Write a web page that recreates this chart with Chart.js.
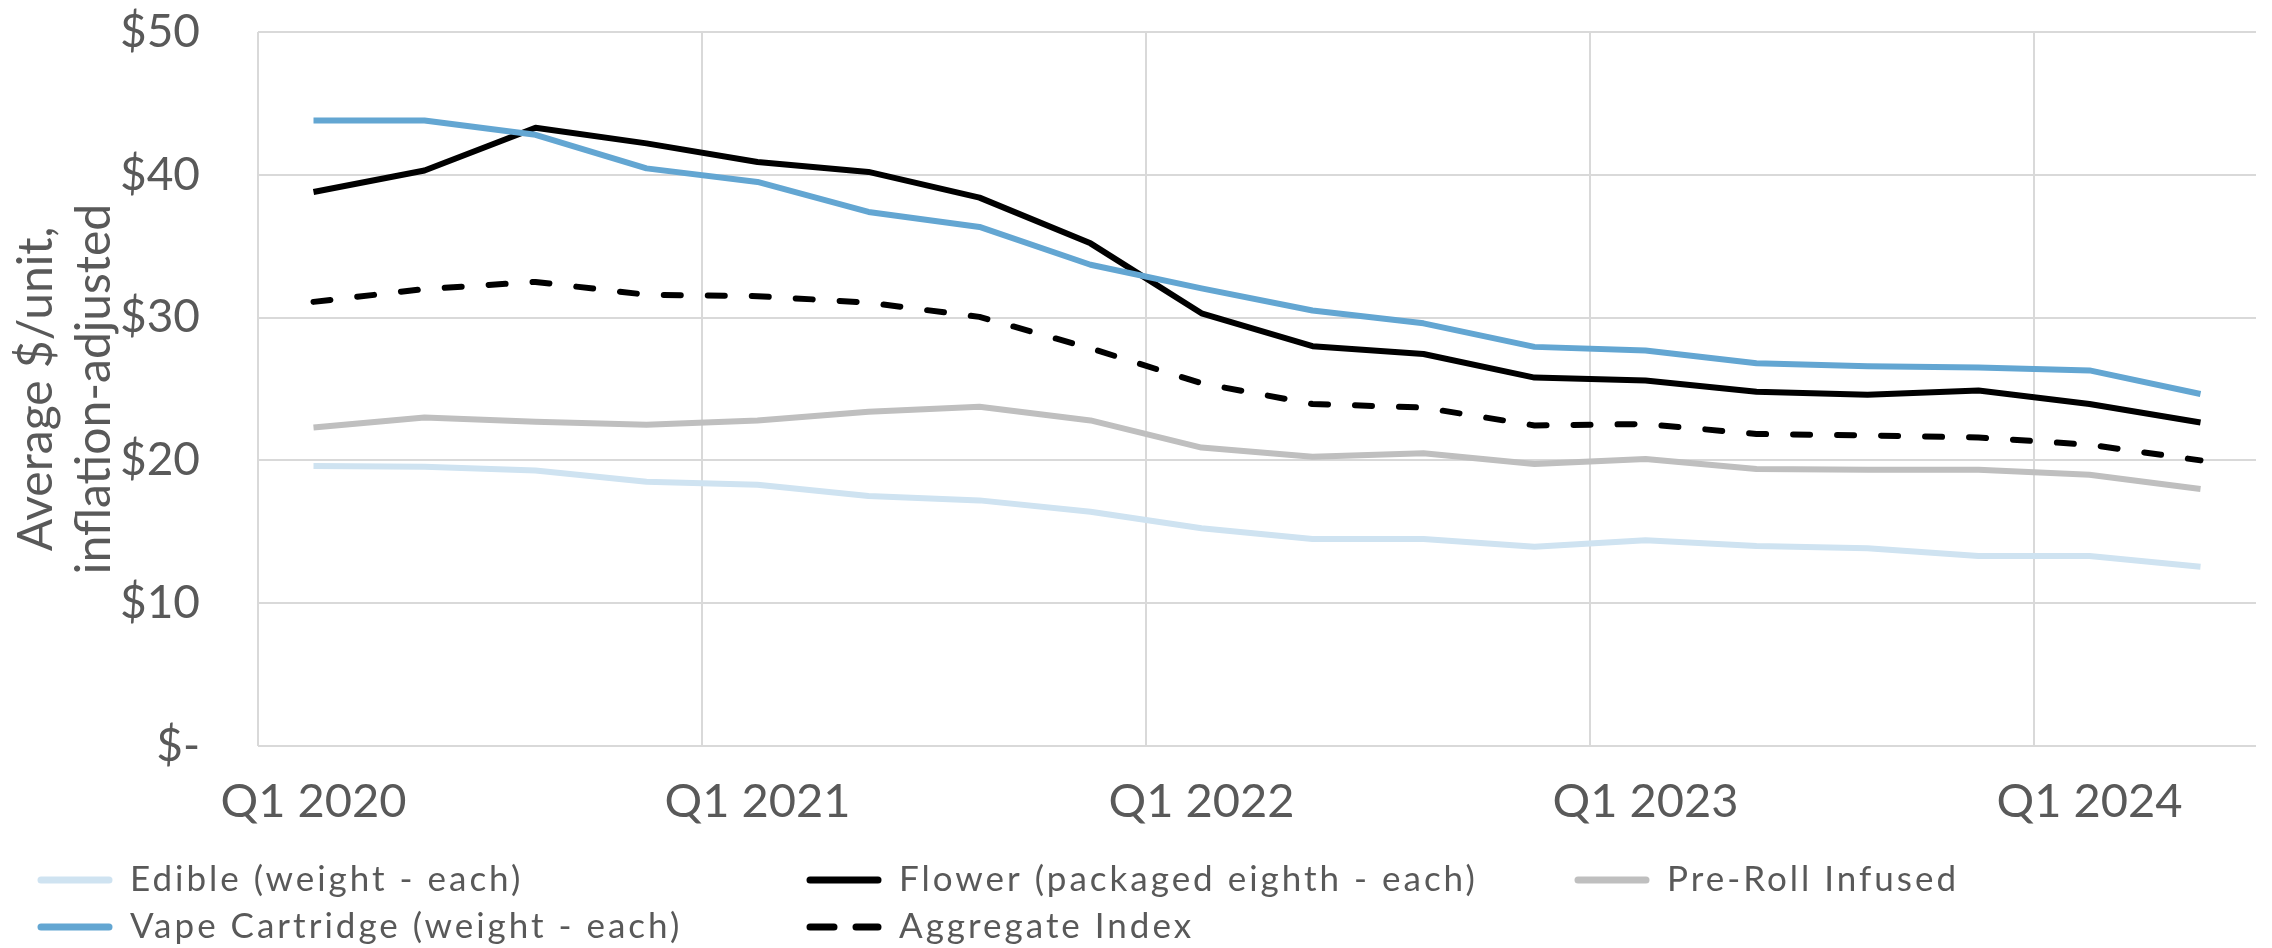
<!DOCTYPE html>
<html>
<head>
<meta charset="utf-8">
<script src="https://cdn.jsdelivr.net/npm/chart.js@4.4.1/dist/chart.umd.min.js"></script>
<style>
  html, body { margin: 0; padding: 0; background: #fff; }
  #wrap { width: 2272px; height: 948px; }
</style>
</head>
<body>
<div id="wrap"><canvas id="priceChart" width="2272" height="948"></canvas></div>
<script>
const quarters = [
  "Q1 2020", "Q2 2020", "Q3 2020", "Q4 2020",
  "Q1 2021", "Q2 2021", "Q3 2021", "Q4 2021",
  "Q1 2022", "Q2 2022", "Q3 2022", "Q4 2022",
  "Q1 2023", "Q2 2023", "Q3 2023", "Q4 2023",
  "Q1 2024", "Q2 2024"
];
const edible = [19.6, 19.55, 19.3, 18.5, 18.3, 17.5, 17.2, 16.4, 15.25, 14.5, 14.5, 13.95, 14.4, 14.0, 13.85, 13.3, 13.3, 12.55];
const flower = [38.8, 40.3, 43.3, 42.2, 40.9, 40.2, 38.4, 35.2, 30.3, 28.0, 27.45, 25.8, 25.6, 24.8, 24.6, 24.9, 23.95, 22.65];
const preRoll = [22.3, 23.0, 22.7, 22.5, 22.8, 23.4, 23.75, 22.8, 20.9, 20.25, 20.5, 19.75, 20.1, 19.4, 19.35, 19.35, 19.0, 18.0];
const vape = [43.8, 43.8, 42.8, 40.45, 39.5, 37.4, 36.35, 33.7, 32.05, 30.5, 29.6, 27.95, 27.7, 26.8, 26.6, 26.5, 26.3, 24.65];
const aggregate = [31.1, 32.0, 32.5, 31.6, 31.5, 31.05, 30.05, 27.85, 25.4, 23.95, 23.7, 22.45, 22.55, 21.85, 21.75, 21.6, 21.1, 20.0];

const yTicks = [0, 10, 20, 30, 40, 50];

const FONT = "Lato, 'Open Sans', sans-serif";
const TEXT = "#595959";
const GRID = "#d9d9d9";

// legend drawn as a 3-column grid like the Excel original
const gridLegend = {
  id: "gridLegend",
  afterDraw(chart) {
    const ctx = chart.ctx;
    const colX = [38, 807, 1575];
    const rowY = [880, 927];
    ctx.save();
    ctx.font = "35px " + FONT;
    ctx.letterSpacing = "3px";
    ctx.textBaseline = "middle";
    ctx.textAlign = "left";
    chart.data.datasets.forEach((ds, i) => {
      const x = colX[i % 3];
      const y = rowY[Math.floor(i / 3)];
      ctx.beginPath();
      ctx.strokeStyle = ds.borderColor;
      ctx.lineWidth = 7;
      ctx.lineCap = "round";
      ctx.setLineDash(ds.borderDash ? [24, 22] : []);
      ctx.moveTo(x + 3, y);
      ctx.lineTo(x + 71, y);
      ctx.stroke();
      ctx.setLineDash([]);
      ctx.fillStyle = TEXT;
      ctx.fillText(ds.label, x + 92, y);
    });
    ctx.restore();
  }
};

const line = (label, data, color, order, dash) => ({
  label,
  data,
  borderColor: color,
  backgroundColor: color,
  borderWidth: 6,
  borderDash: dash,
  borderCapStyle: dash ? "round" : "butt",
  borderJoinStyle: "round",
  pointRadius: 0,
  tension: 0,
  order
});

new Chart(document.getElementById("priceChart"), {
  type: "line",
  data: {
    labels: quarters,
    datasets: [
      line("Edible (weight - each)", edible, "#cfe3f1", 5),
      line("Flower (packaged eighth - each)", flower, "#000000", 4),
      line("Pre-Roll Infused", preRoll, "#bfbfbf", 3),
      line("Vape Cartridge (weight - each)", vape, "#63a6d2", 2),
      line("Aggregate Index", aggregate, "#000000", 1, [17, 27])
    ]
  },
  options: {
    responsive: false,
    animation: false,
    layout: { padding: { left: 0, right: 16, top: 32, bottom: 112 } },
    plugins: {
      legend: { display: false },
      tooltip: { enabled: false }
    },
    scales: {
      x: {
        offset: true,
        border: { display: false },
        grid: {
          offset: true,
          drawTicks: false,
          lineWidth: 2,
          color: (c) => (c.index % 4 === 0 ? GRID : "rgba(0,0,0,0)")
        },
        ticks: {
          autoSkip: false,
          maxRotation: 0,
          minRotation: 0,
          padding: 28,
          color: TEXT,
          font: { family: FONT, size: 47 },
          callback: (v, i) => (i % 4 === 0 ? quarters[i] : "")
        },
        afterFit: (s) => { s.height = 90; s.paddingLeft = 0; s.paddingRight = 0; }
      },
      y: {
        min: 0,
        max: 50,
        border: { display: false },
        grid: { drawTicks: false, lineWidth: 2, color: GRID },
        afterBuildTicks: (s) => { s.ticks = yTicks.map((v) => ({ value: v })); },
        ticks: {
          padding: 58,
          color: TEXT,
          font: { family: FONT, size: 46 },
          callback: (v) => (v === 0 ? "$-" : "$" + v)
        },
        title: {
          display: true,
          text: ["Average $/unit,", "inflation-adjusted"],
          color: TEXT,
          font: { family: FONT, size: 48, lineHeight: 1.2 },
          padding: { top: 8, bottom: 0 }
        },
        afterFit: (s) => { s.width = 258; s.paddingTop = 0; s.paddingBottom = 0; }
      }
    }
  },
  plugins: [gridLegend]
});
</script>
</body>
</html>
